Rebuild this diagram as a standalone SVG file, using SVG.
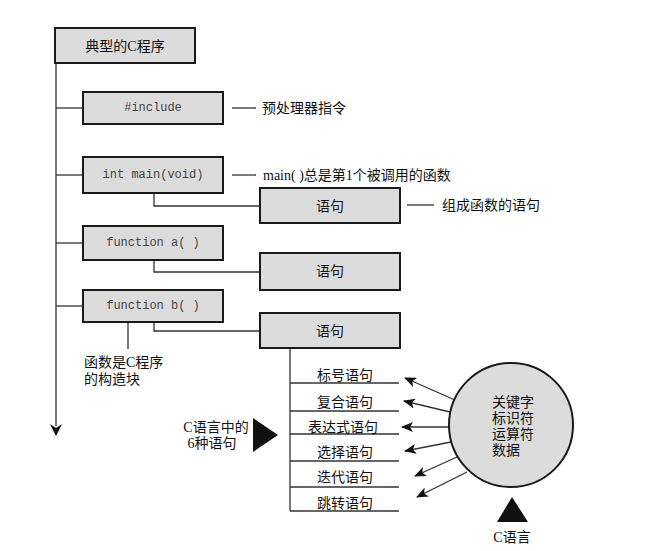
<svg xmlns="http://www.w3.org/2000/svg" width="657" height="551" viewBox="0 0 657 551">
<defs>
<style>
.box{fill:#dcdcdc;stroke:#1a1a1a;stroke-width:2}
.ln{stroke:#333;stroke-width:1.3;fill:none}
.cn{font-family:"Liberation Serif","Noto Sans CJK SC",serif;font-size:14px;fill:#111}
.mono{font-family:"Liberation Mono","DejaVu Sans Mono",monospace;font-size:12px;fill:#444}
.mid{text-anchor:middle;dominant-baseline:central}
</style>
<marker id="ah" viewBox="0 0 12 10" refX="11" refY="5" markerWidth="12" markerHeight="10" markerUnits="userSpaceOnUse" orient="auto">
<path d="M0,0 L12,5 L0,10 L3,5 Z" fill="#111"/>
</marker>
</defs>
<rect width="657" height="551" fill="#fff"/>

<g id="connectors">
<line class="ln" x1="56" y1="63" x2="56" y2="426"/>
<path d="M50,424 L56,436 L62,424 L56,428 Z" fill="#111"/>
<line class="ln" x1="56" y1="108" x2="83" y2="108"/>
<line class="ln" x1="56" y1="175" x2="83" y2="175"/>
<line class="ln" x1="56" y1="243" x2="83" y2="243"/>
<line class="ln" x1="56" y1="306" x2="83" y2="306"/>
<polyline class="ln" points="154,193 154,206 260,206"/>
<polyline class="ln" points="154,260 154,272 260,272"/>
<polyline class="ln" points="154,322 154,331 260,331"/>
<line class="ln" x1="128" y1="322" x2="128" y2="349"/>
<line class="ln" x1="232" y1="108" x2="256" y2="108"/>
<line class="ln" x1="232" y1="175" x2="256" y2="175"/>
<line class="ln" x1="407" y1="205" x2="434" y2="205"/>
<line class="ln" x1="290" y1="348" x2="290" y2="511"/>
<line class="ln" x1="290" y1="383" x2="399" y2="383"/>
<line class="ln" x1="290" y1="411" x2="399" y2="411"/>
<line class="ln" x1="290" y1="434" x2="399" y2="434"/>
<line class="ln" x1="290" y1="461" x2="399" y2="461"/>
<line class="ln" x1="290" y1="487" x2="399" y2="487"/>
<line class="ln" x1="290" y1="511" x2="399" y2="511"/>
<line class="ln" x1="455" y1="400" x2="405" y2="378" marker-end="url(#ah)"/>
<line class="ln" x1="450" y1="412" x2="404" y2="401" marker-end="url(#ah)"/>
<line class="ln" x1="450" y1="427" x2="402" y2="427" marker-end="url(#ah)"/>
<line class="ln" x1="451" y1="442" x2="405" y2="451" marker-end="url(#ah)"/>
<line class="ln" x1="457" y1="457" x2="415" y2="476" marker-end="url(#ah)"/>
<line class="ln" x1="467" y1="472" x2="417" y2="497" marker-end="url(#ah)"/>
</g>

<g id="title">
<rect class="box" x="55" y="28" width="140" height="35"/>
<text class="cn mid" x="125" y="46">典型的C程序</text>
</g>
<g id="include">
<rect class="box" x="83" y="92" width="140" height="32"/>
<text class="mono mid" x="153" y="108">#include</text>
</g>
<g id="main">
<rect class="box" x="83" y="157" width="140" height="36"/>
<text class="mono mid" x="153" y="175">int main(void)</text>
</g>
<g id="funca">
<rect class="box" x="83" y="226" width="140" height="34"/>
<text class="mono mid" x="153" y="243">function a( )</text>
</g>
<g id="funcb">
<rect class="box" x="83" y="290" width="140" height="32"/>
<text class="mono mid" x="153" y="306">function b( )</text>
</g>
<g id="stmt1">
<rect class="box" x="260" y="188" width="140" height="35"/>
<text class="cn mid" x="330" y="206">语句</text>
</g>
<g id="stmt2">
<rect class="box" x="260" y="253" width="140" height="37"/>
<text class="cn mid" x="330" y="271">语句</text>
</g>
<g id="stmt3">
<rect class="box" x="260" y="313" width="140" height="35"/>
<text class="cn mid" x="330" y="331">语句</text>
</g>

<g id="notes">
<text class="cn" x="262" y="108" dominant-baseline="central">预处理器指令</text>
<text class="cn" x="263" y="175" dominant-baseline="central">main( )总是第1个被调用的函数</text>
<text class="cn" x="442" y="205" dominant-baseline="central">组成函数的语句</text>
<text class="cn" x="84" y="367">函数是C程序</text>
<text class="cn" x="84" y="384">的构造块</text>
</g>

<g id="kinds">
<text class="cn mid" x="345" y="375">标号语句</text>
<text class="cn mid" x="345" y="402">复合语句</text>
<text class="cn mid" x="343" y="427">表达式语句</text>
<text class="cn mid" x="345" y="452">选择语句</text>
<text class="cn mid" x="345" y="477">迭代语句</text>
<text class="cn mid" x="345" y="503">跳转语句</text>
</g>

<g id="six">
<text class="cn mid" x="216" y="427">C语言中的</text>
<text class="cn mid" x="212" y="443">6种语句</text>
<polygon points="253,418 253,452 278,435" fill="#111"/>
</g>

<g id="circle">
<circle cx="511" cy="425" r="62" fill="#dcdcdc" stroke="#1a1a1a" stroke-width="2"/>
<text class="cn" x="492" y="402" dominant-baseline="central">关键字</text>
<text class="cn" x="492" y="418" dominant-baseline="central">标识符</text>
<text class="cn" x="492" y="434" dominant-baseline="central">运算符</text>
<text class="cn" x="492" y="450" dominant-baseline="central">数据</text>
</g>

<g id="clang">
<polygon points="512,497 528,522 497,522" fill="#111"/>
<text class="cn mid" x="512" y="537">C语言</text>
</g>
</svg>
